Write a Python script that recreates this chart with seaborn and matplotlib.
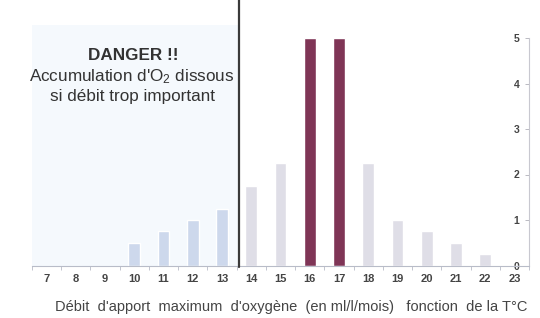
import matplotlib
matplotlib.use("Agg")
import matplotlib.pyplot as plt
import seaborn as sns
import pandas as pd
from matplotlib.patches import Rectangle
from matplotlib.ticker import FixedLocator

temperatures = [7, 8, 9, 10, 11, 12, 13, 14, 15, 16, 17, 18, 19, 20, 21, 22, 23]
debit = [0, 0, 0, 0.5, 0.75, 1.0, 1.25, 1.75, 2.25, 5, 5, 2.25, 1.0, 0.75, 0.5, 0.25, 0]
zone = ["bas", "bas", "bas", "bas", "bas", "bas", "bas",
        "normal", "normal", "optimal", "optimal", "normal", "normal",
        "normal", "normal", "normal", "normal"]
y_ticks = [0, 1, 2, 3, 4, 5]

palette = {"bas": "#c8d7f1", "normal": "#dedde8", "optimal": "#8b2955"}

sns.set_theme(style="white")
plt.rcParams["font.family"] = ["Liberation Sans", "DejaVu Sans"]
plt.rcParams["mathtext.fontset"] = "custom"
plt.rcParams["mathtext.rm"] = "Liberation Sans"

df = pd.DataFrame({"T": [str(t) for t in temperatures], "debit": debit, "zone": zone})

fig = plt.figure(figsize=(5.4, 3.18), dpi=100)
ax = fig.add_axes([32 / 540, 1 - 265.5 / 318, (529 - 32) / 540, (265.5 - 38) / 318])

# faint shaded zone for low temperatures
ax.add_patch(Rectangle((0, 0), (239 - 32) / 497, 1 + 13 / 227.5, transform=ax.transAxes,
                       facecolor="#f5f9fd", edgecolor="none", clip_on=False, zorder=0))

sns.barplot(data=df, x="T", y="debit", hue="zone", palette=palette, dodge=False,
            width=0.4, legend=False, ax=ax, zorder=2)

ax.set_xlim(-0.5, len(temperatures) - 0.5)
ax.set_ylim(0, 5)

# separation line between the two zones
ax.plot([(239 - 32) / 497] * 2, [-0.006, 1 + 38 / 227.5], transform=ax.transAxes,
        color="#3a3a3a", lw=1.6, clip_on=False, zorder=5)

ax.annotate("DANGER !!", xy=(133, 318 - 56), xycoords="figure pixels", ha="center",
            va="center", fontsize=12.3, fontweight="bold", color="#333333")
ax.annotate(r"Accumulation d'$\mathregular{O_2}$ dissous", xy=(132, 318 - 77),
            xycoords="figure pixels", ha="center", va="center", fontsize=12.3, color="#333333")
ax.annotate("si débit trop important", xy=(132, 318 - 97), xycoords="figure pixels",
            ha="center", va="center", fontsize=12.3, color="#333333")

# axes styling
for s in ["left", "top"]:
    ax.spines[s].set_visible(False)
ax.spines["right"].set_color("#c8c8d0")
ax.spines["right"].set_linewidth(0.8)
ax.spines["bottom"].set_color("#b8bcc8")
ax.spines["bottom"].set_linewidth(0.8)

ax.yaxis.tick_right()
ax.set_yticks(y_ticks)
ax.set_yticklabels([str(v) for v in y_ticks])
ax.tick_params(axis="y", direction="in", length=3, width=0.6, color="#b0b0b8",
               pad=-7, labelsize=7.5, labelcolor="#444444")
for lab in ax.get_yticklabels():
    lab.set_horizontalalignment("right")
    lab.set_fontweight("bold")

ax.set_xticks(range(len(temperatures)))
ax.set_xticklabels([str(t) for t in temperatures])
ax.xaxis.set_minor_locator(FixedLocator([i - 0.5 for i in range(len(temperatures) + 1)]))
ax.tick_params(axis="x", which="major", length=0, pad=6, labelsize=8, labelcolor="#444444")
ax.tick_params(axis="x", which="minor", bottom=True, length=3, width=0.6, color="#b8bcc8")
for lab in ax.get_xticklabels():
    lab.set_fontweight("bold")

ax.set_xlabel("")
ax.set_ylabel("")
fig.text(291 / 540, 1 - 307 / 318,
         "Débit  d'apport  maximum  d'oxygène  (en ml/l/mois)   fonction  de la T°C",
         ha="center", va="center", fontsize=10.5, color="#444444")

fig.savefig("out.png", dpi=100, facecolor="white")
